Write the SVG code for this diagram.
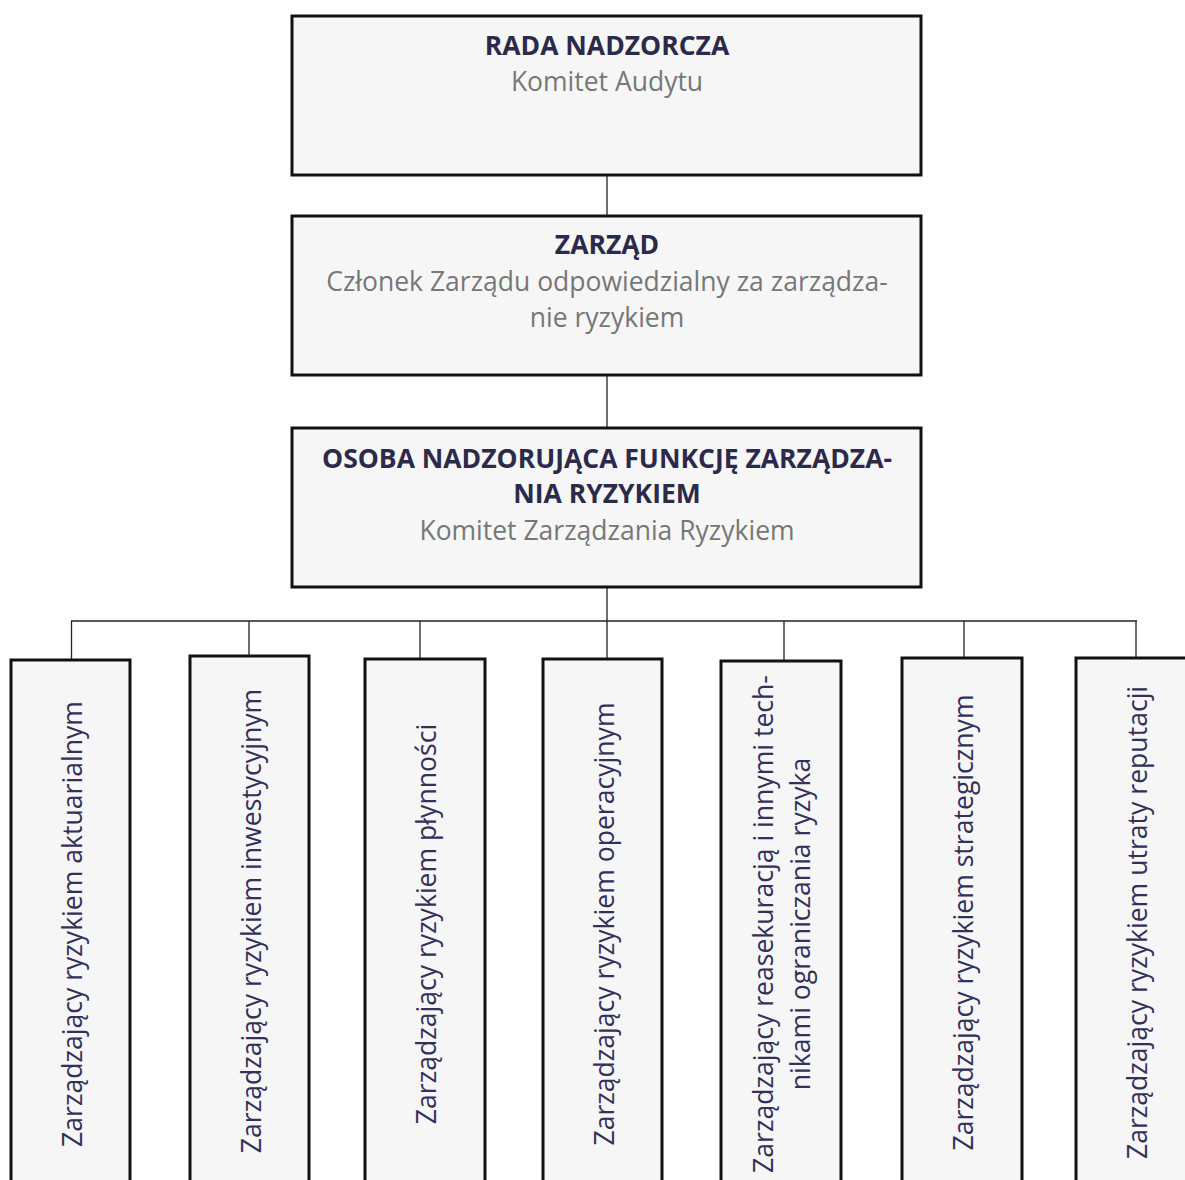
<svg xmlns="http://www.w3.org/2000/svg" width="1185" height="1180" viewBox="0 0 1185 1180">
<style>
.box{fill:#f6f6f6;stroke:#111;stroke-width:3}
.title{font-family:"Open Sans","Noto Sans",sans-serif;font-weight:700;font-size:26.5px;fill:#2c2a4a;text-anchor:middle}
.sub{font-family:"Open Sans","Noto Sans",sans-serif;font-size:26.5px;fill:#777;text-anchor:middle}
.vt{font-family:"Open Sans","Noto Sans",sans-serif;font-size:26.6px;fill:#33305a;text-anchor:middle}
.conn{stroke:#222;stroke-width:1.3;fill:none}
</style>
<rect width="1185" height="1180" fill="#fff"/>
<g id="connectors">
<line class="conn" x1="607" y1="176" x2="607" y2="215"/>
<line class="conn" x1="607" y1="375" x2="607" y2="428"/>
<line class="conn" x1="607" y1="587" x2="607" y2="660"/>
<line class="conn" x1="71" y1="621" x2="1137" y2="621"/>
<line class="conn" x1="71.5" y1="621" x2="71.5" y2="660"/>
<line class="conn" x1="249" y1="621" x2="249" y2="660"/>
<line class="conn" x1="420" y1="621" x2="420" y2="660"/>
<line class="conn" x1="784" y1="621" x2="784" y2="661"/>
<line class="conn" x1="964" y1="621" x2="964" y2="658"/>
<line class="conn" x1="1136" y1="621" x2="1136" y2="658"/>
</g>
<g id="rada">
<rect class="box" x="292" y="16" width="629" height="159"/>
<text class="title" x="607" y="55">RADA NADZORCZA</text>
<text class="sub" x="607" y="91">Komitet Audytu</text>
</g>
<g id="zarzad">
<rect class="box" x="292" y="216" width="629" height="159"/>
<text class="title" x="607" y="254">ZARZĄD</text>
<text class="sub" x="607" y="291">Członek Zarządu odpowiedzialny za zarządza-</text>
<text class="sub" x="607" y="327">nie ryzykiem</text>
</g>
<g id="osoba">
<rect class="box" x="292" y="428" width="629" height="159"/>
<text class="title" x="607" y="468">OSOBA NADZORUJĄCA FUNKCJĘ ZARZĄDZA-</text>
<text class="title" x="607" y="503">NIA RYZYKIEM</text>
<text class="sub" x="607" y="540">Komitet Zarządzania Ryzykiem</text>
</g>
<g id="aktuarialny">
<rect class="box" x="11" y="660" width="119" height="540"/>
<text class="vt" transform="translate(70.5,924) rotate(-90)" y="11">Zarządzający ryzykiem aktuarialnym</text>
</g>
<g id="inwestycyjny">
<rect class="box" x="190" y="656" width="119" height="540"/>
<text class="vt" transform="translate(249.5,921) rotate(-90)" y="11">Zarządzający ryzykiem inwestycyjnym</text>
</g>
<g id="plynnosc">
<rect class="box" x="365" y="659" width="120" height="540"/>
<text class="vt" transform="translate(425,924) rotate(-90)" y="11">Zarządzający ryzykiem płynności</text>
</g>
<g id="operacyjny">
<rect class="box" x="543" y="659" width="119" height="540"/>
<text class="vt" transform="translate(602.5,924) rotate(-90)" y="11">Zarządzający ryzykiem operacyjnym</text>
</g>
<g id="reasekuracja">
<rect class="box" x="721" y="661" width="120" height="540"/>
<text class="vt" transform="translate(780.5,924) rotate(-90)"><tspan x="0" y="-7.5">Zarządzający reasekuracją i innymi tech-</tspan><tspan x="0" y="29.5">nikami ograniczania ryzyka</tspan></text>
</g>
<g id="strategiczny">
<rect class="box" x="902" y="658" width="120" height="540"/>
<text class="vt" transform="translate(962,922.5) rotate(-90)" y="11">Zarządzający ryzykiem strategicznym</text>
</g>
<g id="reputacja">
<rect class="box" x="1076" y="658" width="120" height="540"/>
<text class="vt" transform="translate(1136,922.5) rotate(-90)" y="11">Zarządzający ryzykiem utraty reputacji</text>
</g>
</svg>
